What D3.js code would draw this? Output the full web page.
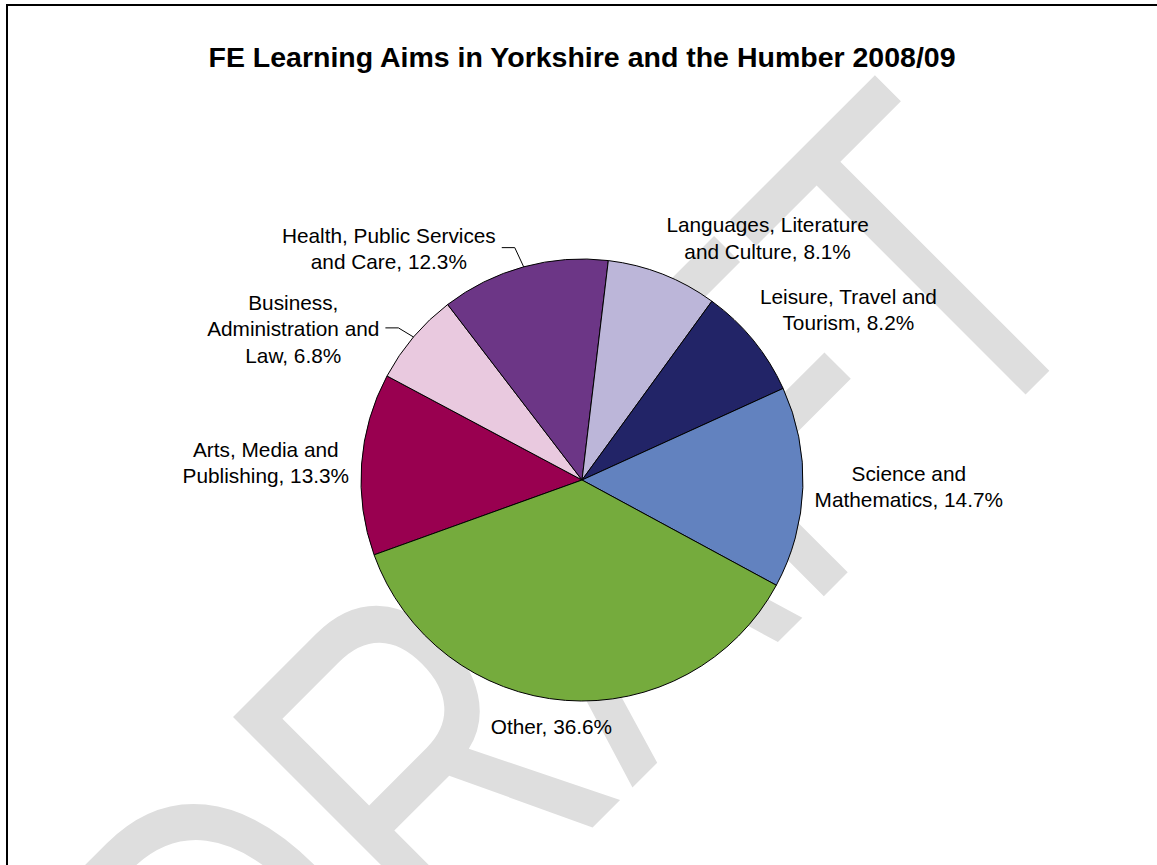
<!DOCTYPE html>
<html>
<head>
<meta charset="utf-8">
<script src="https://cdn.jsdelivr.net/npm/d3@7"></script>
<style>
  body { margin: 0; background: #fff; }
  svg { display: block; font-family: "Liberation Sans", Arial, sans-serif; }
</style>
</head>
<body>
<svg></svg>
<script>
let width = 1157, height = 865;

// Data (alphabetical, "Other" last, as in the source sheet)
const categories = [
    "Arts, Media and Publishing",
    "Business, Administration and Law",
    "Health, Public Services and Care",
    "Languages, Literature and Culture",
    "Leisure, Travel and Tourism",
    "Science and Mathematics",
    "Other"
];
const shares = [13.3, 6.8, 12.3, 8.1, 8.2, 14.7, 36.6];
// how many words go on each line of a label
const lineWords = [[3, 2], [1, 2, 2], [3, 3], [2, 3], [3, 2], [2, 2], [2]];
const withLeader = [false, true, true, false, false, false, false];

const colours = ["#990050", "#E9C9DF", "#6C3686", "#BCB6D9", "#222467", "#6282BF", "#75AB3D"];

// label layout tweaks, relative to a point just outside the slice
const labelNudge = [[-17, 5], [-60, 44], [-114, 59], [76, 38], [34, 20], [27, -3], [-8, -52]];

let svg = d3.select("svg")
    .attr("width", width)
    .attr("height", height);

svg.append("rect").attr("width", width).attr("height", height).attr("fill", "#fff");

// watermark (tall, narrow letters)
svg.append("text")
    .attr("transform", "translate(262,1158) rotate(-45) scale(0.75,1)")
    .attr("font-size", 483)
    .attr("fill", "#DEDEDE")
    .text("DRAFT");

// frame
svg.append("rect")
    .attr("x", 7).attr("y", 5)
    .attr("width", 1400).attr("height", 1000)
    .attr("fill", "none")
    .attr("stroke", "#000")
    .attr("stroke-width", 2);

svg.append("text")
    .attr("x", 582).attr("y", 67)
    .attr("text-anchor", "middle")
    .attr("font-size", 28.5)
    .attr("font-weight", "bold")
    .text("FE Learning Aims in Yorkshire and the Humber 2008/09");

const cx = 582, cy = 480, r = 221;
const startDeg = 250.2;

let pie = d3.pie()
    .sort(null)
    .value(d => d.value)
    .startAngle(startDeg * Math.PI / 180)
    .endAngle((startDeg + 360) * Math.PI / 180);

let data = categories.map((c, i) => ({ name: c, value: shares[i], i: i }));
let arcs = pie(data);

let arc = d3.arc().innerRadius(0).outerRadius(r);
let edge = d3.arc().innerRadius(r).outerRadius(r);
let outer = d3.arc().innerRadius(300).outerRadius(300);

let g = svg.append("g").attr("transform", `translate(${cx},${cy})`);

g.selectAll("path")
    .data(arcs)
    .enter()
    .append("path")
    .attr("d", arc)
    .attr("fill", d => colours[d.data.i])
    .attr("stroke", "#000")
    .attr("stroke-width", 1);

const lh = 26.5, fs = 20.8;

arcs.forEach(d => {
    let i = d.data.i;
    let words = (d.data.name + ", " + d.data.value.toFixed(1) + "%").split(" ");
    let lines = [], k = 0;
    lineWords[i].forEach(n => { lines.push(words.slice(k, k + n).join(" ")); k += n; });

    let p = outer.centroid(d);
    let lx = p[0] + labelNudge[i][0];
    let ly = p[1] + labelNudge[i][1];
    let first = ly + 6.6 - (lines.length - 1) * lh / 2;

    let t = g.append("text")
        .attr("text-anchor", "middle")
        .attr("font-size", fs)
        .attr("fill", "#000");
    lines.forEach((s, j) => {
        t.append("tspan").attr("x", lx).attr("y", first + j * lh).text(s);
    });

    if (withLeader[i]) {
        let bb = t.node().getBBox();
        let e = edge.centroid(d);
        let x0 = bb.x + bb.width + 6, y0 = ly - 2;
        g.append("path")
            .attr("fill", "none")
            .attr("stroke", "#000")
            .attr("stroke-width", 1)
            .attr("d", `M${x0},${y0}H${x0 + 13}L${e[0]},${e[1]}`);
    }
});
</script>
</body>
</html>
